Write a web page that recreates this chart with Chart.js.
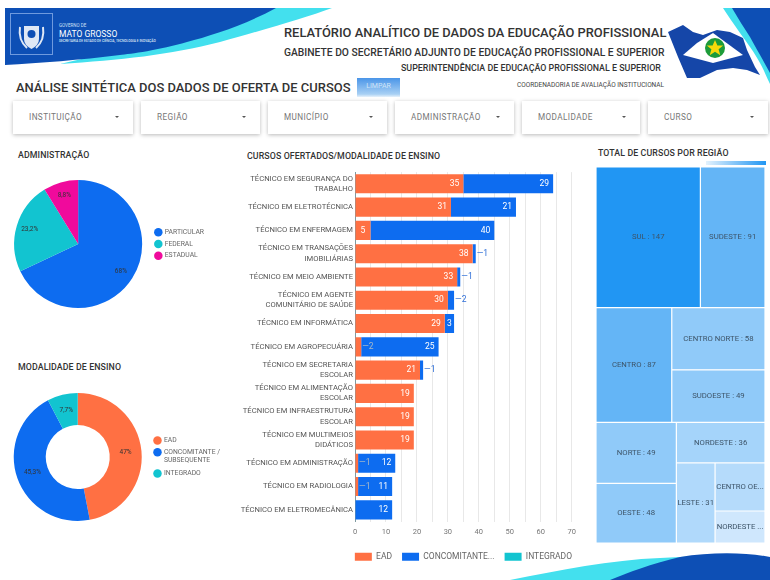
<!DOCTYPE html>
<html lang="pt-BR">
<head>
<meta charset="UTF-8">
<title>Relatório Analítico de Dados da Educação Profissional</title>
<style>
    html, body { margin: 0; padding: 0; background: #fff; }
    body { position: relative; width: 770px; height: 580px; overflow: hidden; font-family: Roboto, sans-serif; color: #333; }
    .abs { position: absolute; white-space: nowrap; }
    svg.abs { left: 0; top: 0; }
    canvas { position: absolute; }
    .card { position: absolute; top: 101px; height: 33px; background: #fff; box-shadow: 0 1px 4px rgba(0,0,0,.28); color: #777; font-size: 8.2px; line-height: 33px; letter-spacing: .4px; }
    .card span { position: absolute; left: 16px; }
    .card i { position: absolute; right: 14px; top: 15px; width: 0; height: 0; border-left: 2px solid transparent; border-right: 2px solid transparent; border-top: 2px solid #555; }
    .section { font-size: 8.8px; font-weight: 500; color: #333; letter-spacing: .1px; }
    #limpar { left: 357px; top: 78px; width: 43px; height: 19px; background: linear-gradient(#4a95e8, #a8d0f4 85%, #e6f1fb); color: #cfe4f8; font-size: 7px; line-height: 17px; text-align: center; }
    #scale { left: 706px; top: 161px; width: 60px; height: 4px; background: linear-gradient(90deg, #e3f2fd, #2196f3); }
</style>
<script src="https://cdn.jsdelivr.net/npm/chart.js"></script>
</head>
<body>
<svg class="abs" width="770" height="580" viewBox="0 0 770 580">
    <path d="M60 64 C120 60 170 55 220 42 C270 28 305 18 332 8 L270 8 L120 50 Z" fill="#43e0ee"/>
    <path d="M5 8 L276 8 C245 25 210 36 187 42 C160 50 130 54 120 55 C80 60 40 63 5 65 Z" fill="#0d4fb5"/>
    <path d="M723 8 C728 16 734 24 740 33 C748 44 754 52 760 63 C764 70 766 76 770 84 L770 8 Z" fill="#43e0ee"/>
    <path d="M732 8 C738 18 744 28 750 37 C756 48 763 60 770 73 L770 8 Z" fill="#0d4fb5"/>
    <path d="M510 580 C560 570 610 560 660 558 L700 556 L640 580 Z" fill="#43e0ee"/>
    <path d="M610 580 C630 572 650 564 680 557 C710 552 745 552 770 557 L770 580 Z" fill="#0d4fb5"/>
    <rect x="10.5" y="13.5" width="42" height="41" fill="none" stroke="#6f9ade" stroke-width="1"/>
    <path d="M24 26 h15 v13 q0 6 -7.5 10 q-7.5 -4 -7.5 -10 Z" fill="#dfe8f5"/>
    <circle cx="31.5" cy="34" r="4" fill="#0d4fb5"/>
    <path d="M20 27 q-2 13 7 21 M43 27 q2 13 -7 21" stroke="#dfe8f5" stroke-width="2" fill="none"/>
    <path d="M668 32 L683 25 L693 32 L703 35 L717 30 L730 32 L743 38 L747 50 L755 67 L760 75 L747 70 L733 68 L717 70 L700 78 L687 78 L678 57 Z" fill="#1546a8"/>
    <path d="M683 55 L697 43 L713 33 L743 55 L713 63 Z" fill="#fff"/>
    <circle cx="715" cy="48" r="10" fill="#1c9b3a"/>
    <path d="M715 40 l2.4 5.4 5.8 0 -4.6 3.8 1.7 6 -5.3 -3.5 -5.3 3.5 1.7 -6 -4.6 -3.8 5.8 0 Z" fill="#f5d90a"/>
</svg>

<div class="abs" style="left:59px;top:23px;font-size:4.5px;color:#cfe0f6">GOVERNO DE</div>
<div class="abs" style="left:59px;top:29px;font-size:8.5px;color:#fff">MATO GROSSO</div>
<div class="abs" style="left:59px;top:39px;font-size:3.3px;color:#dfe8f5;font-weight:500">SECRETARIA DE ESTADO DE CIÊNCIA, TECNOLOGIA E INOVAÇÃO</div>

<div class="abs" style="left:284px;top:25px;font-size:12.9px;font-weight:500;color:#333">RELATÓRIO ANALÍTICO DE DADOS DA EDUCAÇÃO PROFISSIONAL</div>
<div class="abs" style="left:284px;top:46px;font-size:10.3px;font-weight:500;color:#333">GABINETE DO SECRETÁRIO ADJUNTO DE EDUCAÇÃO PROFISSIONAL E SUPERIOR</div>
<div class="abs" style="left:401px;top:63px;font-size:8.9px;font-weight:500;color:#333">SUPERINTENDÊNCIA DE EDUCAÇÃO PROFISSIONAL E SUPERIOR</div>
<div class="abs" style="left:517px;top:81px;font-size:6.5px;color:#444">COORDENADORIA DE AVALIAÇÃO INSTITUCIONAL</div>
<div class="abs" style="left:16px;top:80px;font-size:12.95px;font-weight:500;color:#333">ANÁLISE SINTÉTICA DOS DADOS DE OFERTA DE CURSOS</div>
<div class="abs" id="limpar">LIMPAR</div>

<div class="card" style="left:13px;width:120px"><span>INSTITUIÇÃO</span><i></i></div>
<div class="card" style="left:141px;width:119px"><span>REGIÃO</span><i></i></div>
<div class="card" style="left:268px;width:119px"><span>MUNICÍPIO</span><i></i></div>
<div class="card" style="left:395px;width:119px"><span>ADMINISTRAÇÃO</span><i></i></div>
<div class="card" style="left:522px;width:118px"><span>MODALIDADE</span><i></i></div>
<div class="card" style="left:648px;width:120px"><span>CURSO</span><i></i></div>

<div class="abs section" style="left:18px;top:150px">ADMINISTRAÇÃO</div>
<div class="abs section" style="left:18px;top:362px">MODALIDADE DE ENSINO</div>
<div class="abs section" style="left:247px;top:151px">CURSOS OFERTADOS/MODALIDADE DE ENSINO</div>
<div class="abs section" style="left:598px;top:148px">TOTAL DE CURSOS POR REGIÃO</div>
<div class="abs" id="scale"></div>

<canvas id="adminChart" style="left:6px;top:174px"></canvas>
<canvas id="modalChart" style="left:6px;top:387px"></canvas>
<canvas id="courseChart" style="left:240px;top:165px"></canvas>
<canvas id="regionChart" style="left:596px;top:167px"></canvas>

<script>
    const ORANGE = '#ff7043';
    const BLUE = '#0d6cf0';
    const TEAL = '#12c4d0';
    const MAGENTA = '#f00a9c';

    const adminLabels = ['PARTICULAR', 'FEDERAL', 'ESTADUAL'];
    const adminValues = [68, 23.2, 8.8];

    const modalLabels = ['EAD', ['CONCOMITANTE /', 'SUBSEQUENTE'], 'INTEGRADO'];
    const modalValues = [47, 45.3, 7.7];

    const courses = [
        ['TÉCNICO EM SEGURANÇA DO', 'TRABALHO'],
        'TÉCNICO EM ELETROTÉCNICA',
        'TÉCNICO EM ENFERMAGEM',
        ['TÉCNICO EM TRANSAÇÕES', 'IMOBILIÁRIAS'],
        'TÉCNICO EM MEIO AMBIENTE',
        ['TÉCNICO EM AGENTE', 'COMUNITÁRIO DE SAÚDE'],
        'TÉCNICO EM INFORMÁTICA',
        'TÉCNICO EM AGROPECUÁRIA',
        ['TÉCNICO EM SECRETARIA', 'ESCOLAR'],
        ['TÉCNICO EM ALIMENTAÇÃO', 'ESCOLAR'],
        ['TÉCNICO EM INFRAESTRUTURA', 'ESCOLAR'],
        ['TÉCNICO EM MULTIMEIOS', 'DIDÁTICOS'],
        'TÉCNICO EM ADMINISTRAÇÃO',
        'TÉCNICO EM RADIOLOGIA',
        'TÉCNICO EM ELETROMECÂNICA'
    ];
    const eadValues = [35, 31, 5, 38, 33, 30, 29, 2, 21, 19, 19, 19, 1, 1, 0];
    const concomitanteValues = [29, 21, 40, 1, 1, 2, 3, 25, 1, 0, 0, 0, 12, 11, 12];
    const integradoValues = [0, 0, 0, 0, 0, 0, 0, 0, 0, 0, 0, 0, 0, 0, 0];

    const regions = ['SUL', 'SUDESTE', 'CENTRO', 'CENTRO NORTE', 'SUDOESTE', 'NORTE', 'OESTE', 'NORDESTE', 'LESTE', 'CENTRO OESTE', 'NORDESTE II'];
    const regionValues = [147, 91, 87, 58, 49, 49, 48, 36, 31, 24, 16];
    const regionColors = ['#2196f3', '#64b5f6', '#64b5f6', '#90caf9', '#90caf9', '#90caf9', '#90caf9', '#a5d4fa', '#b0d9fb', '#b5dbfb', '#cfe7fd'];
    // how the cells nest: rows, then columns inside them, and so on
    const regionTree = [[0, 1], [2, [3, 4]], [[5, 6], [7, [8, [9, 10]]]]];

    function makeCanvas(id, w, h) {
        const canvas = document.getElementById(id);
        canvas.style.width = w + 'px';
        canvas.style.height = h + 'px';
        canvas.width = w;
        canvas.height = h;
        return canvas.getContext('2d');
    }

    Chart.defaults.font.family = 'Roboto, sans-serif';
    Chart.defaults.animation = false;
    Chart.defaults.plugins.tooltip.enabled = false;

    // percent labels inside the pie and the doughnut
    const percentLabels = {
        id: 'percentLabels',
        afterDatasetsDraw(chart) {
            const { ctx } = chart;
            const values = chart.data.datasets[0].data;
            ctx.save();
            ctx.font = '6.5px Roboto, sans-serif';
            ctx.fillStyle = '#333';
            ctx.textAlign = 'center';
            ctx.textBaseline = 'middle';
            chart.getDatasetMeta(0).data.forEach((arc, i) => {
                const mid = (arc.startAngle + arc.endAngle) / 2;
                const r = arc.innerRadius > 0 ? (arc.innerRadius + arc.outerRadius) / 2 : arc.outerRadius * 0.79;
                const text = String(values[i]).replace('.', ',') + '%';
                ctx.fillText(text, arc.x + Math.cos(mid) * r, arc.y + Math.sin(mid) * r);
            });
            ctx.restore();
        }
    };

    function circleChart(id, type, labels, values, colors, width, cutout) {
        return new Chart(makeCanvas(id, width, 140), {
            type,
            data: {
                labels,
                datasets: [{ data: values, backgroundColor: colors, borderWidth: 0, radius: 64, cutout }]
            },
            options: {
                responsive: false,
                layout: { padding: 0 },
                plugins: {
                    legend: {
                        position: 'right',
                        labels: {
                            usePointStyle: true,
                            pointStyle: 'circle',
                            boxWidth: 6,
                            boxHeight: 6,
                            padding: 5,
                            color: '#666',
                            font: { size: 6.8 }
                        }
                    }
                }
            },
            plugins: [percentLabels]
        });
    }

    circleChart('adminChart', 'pie', adminLabels, adminValues, [BLUE, TEAL, MAGENTA], 208, 0);
    circleChart('modalChart', 'doughnut', modalLabels, modalValues, [ORANGE, BLUE, TEAL], 224, '50%');

    // value labels on the stacked bars, small values get a dash outside the bar
    const barLabels = {
        id: 'barLabels',
        afterDatasetsDraw(chart) {
            const { ctx } = chart;
            ctx.save();
            ctx.font = '8.5px Roboto, sans-serif';
            ctx.textBaseline = 'middle';
            chart.data.datasets.forEach((ds, d) => {
                chart.getDatasetMeta(d).data.forEach((bar, i) => {
                    const value = ds.data[i];
                    if (!value) return;
                    if (value >= 3) {
                        ctx.fillStyle = '#fff';
                        ctx.textAlign = value < 6 ? 'center' : 'right';
                        const x = value < 6 ? (bar.x + bar.base) / 2 : bar.x - 4;
                        ctx.fillText(value, x, bar.y);
                    } else {
                        ctx.fillStyle = d === 0 ? '#a9b9c6' : '#2f6fd8';
                        ctx.textAlign = 'left';
                        ctx.fillText('—' + value, bar.x + 1, bar.y);
                    }
                });
            });
            ctx.restore();
        }
    };

    // the legend runs a little past the plot on the right
    const legendNudge = {
        id: 'legendNudge',
        afterLayout(chart) { chart.legend.right += 10.3; }
    };

    new Chart(makeCanvas('courseChart', 345, 406), {
        type: 'bar',
        data: {
            labels: courses,
            datasets: [
                { label: 'EAD', data: eadValues, backgroundColor: ORANGE },
                { label: 'CONCOMITANTE...', data: concomitanteValues, backgroundColor: BLUE },
                { label: 'INTEGRADO', data: integradoValues, backgroundColor: TEAL }
            ]
        },
        options: {
            indexAxis: 'y',
            responsive: false,
            layout: { padding: { top: 5, right: 13.3, bottom: 0, left: 0 } },
            datasets: { bar: { barPercentage: 0.82, categoryPercentage: 1 } },
            scales: {
                x: {
                    stacked: true,
                    min: 0,
                    max: 70,
                    ticks: {
                        stepSize: 5,
                        autoSkip: false,
                        maxRotation: 0,
                        color: '#777',
                        font: { size: 7.5 },
                        padding: 6,
                        callback: v => (v % 10 === 0 ? v : '')
                    },
                    grid: { color: '#e8e8e8', drawTicks: false },
                    border: { display: false }
                },
                y: {
                    stacked: true,
                    afterFit(scale) { scale.width = 115; },
                    ticks: {
                        autoSkip: false,
                        color: '#555',
                        font: { size: 7.65, lineHeight: 1.35 },
                        padding: 2
                    },
                    grid: { display: false, drawTicks: false },
                    border: { display: true, color: '#7f9aa0' }
                }
            },
            plugins: {
                legend: {
                    position: 'bottom',
                    align: 'end',
                    labels: {
                        boxWidth: 17,
                        boxHeight: 8,
                        padding: 10,
                        color: '#666',
                        font: { size: 8.5 }
                    }
                }
            }
        },
        plugins: [barLabels, legendNudge]
    });

    // no treemap type in Chart.js itself, so a small controller that puts bar elements on the scales
    function weight(node) {
        return Array.isArray(node) ? node.reduce((sum, n) => sum + weight(n), 0) : regionValues[node];
    }

    function layoutCells(node, x0, y0, x1, y1, stacked, cells) {
        if (!Array.isArray(node)) {
            cells[node] = { x: (x0 + x1) / 2, y: (y0 + y1) / 2, w: x1 - x0, h: y1 - y0 };
            return cells;
        }
        const total = weight(node);
        let pos = stacked ? y0 : x0;
        node.forEach(child => {
            const share = weight(child) / total * (stacked ? y1 - y0 : x1 - x0);
            if (stacked) layoutCells(child, x0, pos, x1, pos + share, false, cells);
            else layoutCells(child, pos, y0, pos + share, y1, true, cells);
            pos += share;
        });
        return cells;
    }

    class TreemapController extends Chart.DatasetController {
        static id = 'treemap';
        static defaults = { datasetElementType: false, dataElementType: 'bar' };

        update(mode) {
            const meta = this._cachedMeta;
            this.updateElements(meta.data, 0, meta.data.length, mode);
        }

        updateElements(elements, start, count, mode) {
            const { xScale, yScale } = this._cachedMeta;
            const data = this.getDataset().data;
            for (let i = start; i < start + count; i++) {
                const cell = data[i];
                const top = yScale.getPixelForValue(cell.y - cell.h / 2);
                const bottom = yScale.getPixelForValue(cell.y + cell.h / 2);
                this.updateElement(elements[i], i, {
                    x: xScale.getPixelForValue(cell.x),
                    y: top,
                    base: bottom,
                    width: xScale.getPixelForValue(cell.w) - xScale.getPixelForValue(0),
                    height: bottom - top,
                    horizontal: false,
                    borderSkipped: {},
                    enableBorderRadius: false,
                    inflateAmount: 0,
                    options: this.resolveDataElementOptions(i, mode)
                }, mode);
            }
        }

        draw() {
            super.draw();
            const { ctx } = this.chart;
            const elements = this._cachedMeta.data;
            ctx.save();
            ctx.font = '7.75px Roboto, sans-serif';
            ctx.fillStyle = '#3d5468';
            ctx.textAlign = 'center';
            ctx.textBaseline = 'middle';
            elements.forEach((el, i) => {
                let text = regions[i] + ' : ' + regionValues[i];
                if (ctx.measureText(text).width > el.width - 2) {
                    let cut = text;
                    while (cut.length && ctx.measureText(cut + '...').width > el.width - 2) cut = cut.slice(0, -1);
                    text = cut + '...';
                }
                ctx.fillText(text, el.x, (el.y + el.base) / 2);
            });
            ctx.restore();
        }
    }
    Chart.register(TreemapController);

    new Chart(makeCanvas('regionChart', 169, 376), {
        type: 'treemap',
        data: {
            labels: regions,
            datasets: [{
                data: layoutCells(regionTree, 0, 0, 1, 1, true, []),
                parsing: false,
                backgroundColor: regionColors,
                borderColor: '#fff',
                borderWidth: 0.6
            }]
        },
        options: {
            responsive: false,
            layout: { padding: 0 },
            scales: {
                x: { type: 'linear', display: false, min: 0, max: 1 },
                y: { type: 'linear', display: false, min: 0, max: 1, reverse: true }
            },
            plugins: { legend: { display: false } }
        }
    });
</script>
</body>
</html>
